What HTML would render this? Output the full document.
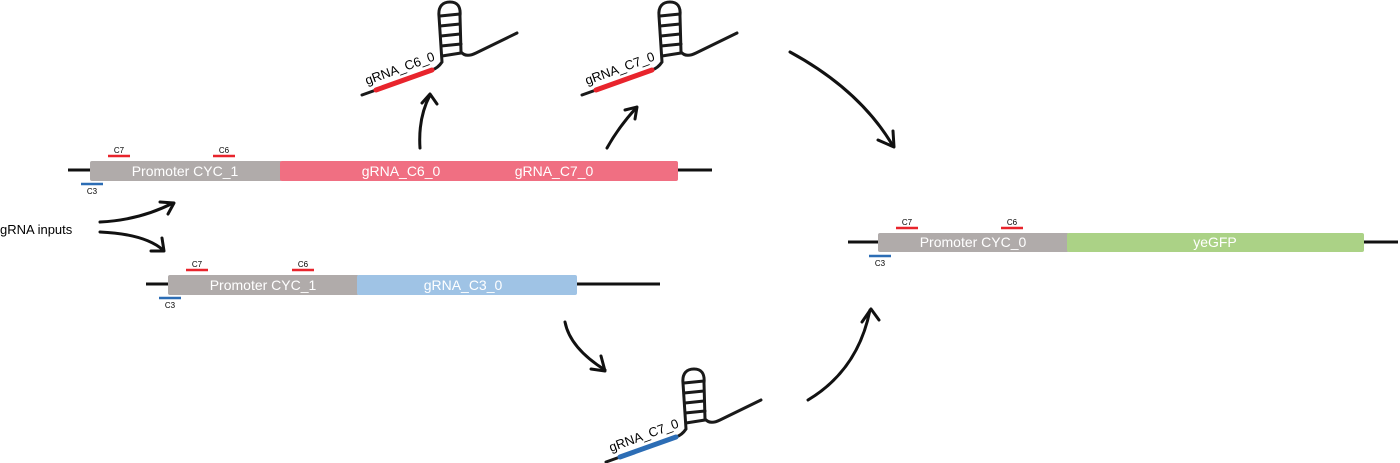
<!DOCTYPE html>
<html><head><meta charset="utf-8"><style>
html,body{margin:0;padding:0;background:#fff;}
svg{display:block;}
text{font-family:"Liberation Sans","DejaVu Sans",sans-serif;}
</style></head><body>
<svg width="1400" height="463" viewBox="0 0 1400 463" xmlns="http://www.w3.org/2000/svg">
<defs>
<g id="hp" fill="none" stroke="#1a1a1a" stroke-width="3" stroke-linecap="round">
  <path d="M362,95 L376,90"/>
  <path d="M432,70 Q438,68 442,62 L439,16 C438,6 443,2 450,2 C457,2 461,6 460,16 L461,52 Q466,58 476,53 L517,33"/>
  <path d="M440,16 L460,14 M440,26 L460,24 M441,36 L460,34 M441,46 L461,44 M442,56 L461,53"/>
</g>
</defs>

<use href="#hp"/>
<path d="M376,90 L432,70" stroke="#e8242c" stroke-width="5" stroke-linecap="round"/>
<text x="0" y="0" font-size="13" transform="translate(367,85) rotate(-20)">gRNA_C6_0</text>

<use href="#hp" transform="translate(220,0)"/>
<path d="M596,90 L652,70" stroke="#e8242c" stroke-width="5" stroke-linecap="round"/>
<text x="0" y="0" font-size="13" transform="translate(587,85) rotate(-20)">gRNA_C7_0</text>

<use href="#hp" transform="translate(244,367)"/>
<path d="M620,457 L676,437" stroke="#2c6db5" stroke-width="5" stroke-linecap="round"/>
<text x="0" y="0" font-size="13" transform="translate(611,452) rotate(-20)">gRNA_C7_0</text>

<g fill="none" stroke="#111" stroke-width="3" stroke-linecap="round" stroke-linejoin="round">
  <path d="M420,148 Q418,118 430,95"/><path d="M422,103 L430,94 L437,104"/>
  <path d="M607,148 Q618,128 636,108"/><path d="M625,110 L637,107 L635,119"/>
  <path d="M790,52 Q860,90 893,146"/><path d="M878,140 L894,147 L893,131"/>
  <path d="M565,322 Q570,348 605,370"/><path d="M591,369 L605,371 L601,356"/>
  <path d="M808,400 Q858,370 870,310"/><path d="M862,322 L871,309 L879,320"/>
  <path d="M100,222 Q140,220 173,203"/><path d="M160,202 L174,203 L168,214"/>
  <path d="M100,232 Q145,234 163,250"/><path d="M151,251 L164,251 L162,238"/>
</g>
<text x="0" y="234" font-size="13">gRNA inputs</text>

<line x1="68" y1="170" x2="92" y2="170" stroke="#111" stroke-width="3"/>
<line x1="676" y1="170" x2="712" y2="170" stroke="#111" stroke-width="3"/>
<rect x="90" y="161" width="192" height="20" rx="2" fill="#b0abaa"/>
<rect x="280" y="161" width="398" height="20" rx="2" fill="#f06f82"/>
<text x="185" y="176" font-size="14" fill="#fff" text-anchor="middle">Promoter CYC_1</text>
<text x="401" y="176" font-size="14" fill="#fff" text-anchor="middle">gRNA_C6_0</text>
<text x="554" y="176" font-size="14" fill="#fff" text-anchor="middle">gRNA_C7_0</text>
<line x1="108" y1="156" x2="130" y2="156" stroke="#e8242c" stroke-width="2.5"/>
<text x="119" y="153" font-size="8" text-anchor="middle">C7</text>
<line x1="213" y1="156" x2="235" y2="156" stroke="#e8242c" stroke-width="2.5"/>
<text x="224" y="153" font-size="8" text-anchor="middle">C6</text>
<line x1="81" y1="184" x2="103" y2="184" stroke="#2c6db5" stroke-width="2.5"/>
<text x="92" y="194" font-size="8" text-anchor="middle">C3</text>

<line x1="146" y1="284" x2="170" y2="284" stroke="#111" stroke-width="3"/>
<line x1="575" y1="284" x2="660" y2="284" stroke="#111" stroke-width="3"/>
<rect x="168" y="275" width="191" height="20" rx="2" fill="#b0abaa"/>
<rect x="357" y="275" width="220" height="20" rx="2" fill="#9fc3e5"/>
<text x="263" y="290" font-size="14" fill="#fff" text-anchor="middle">Promoter CYC_1</text>
<text x="463" y="290" font-size="14" fill="#fff" text-anchor="middle">gRNA_C3_0</text>
<line x1="186" y1="270" x2="208" y2="270" stroke="#e8242c" stroke-width="2.5"/>
<text x="197" y="267" font-size="8" text-anchor="middle">C7</text>
<line x1="292" y1="270" x2="314" y2="270" stroke="#e8242c" stroke-width="2.5"/>
<text x="303" y="267" font-size="8" text-anchor="middle">C6</text>
<line x1="159" y1="298" x2="181" y2="298" stroke="#2c6db5" stroke-width="2.5"/>
<text x="170" y="308" font-size="8" text-anchor="middle">C3</text>

<line x1="848" y1="242" x2="880" y2="242" stroke="#111" stroke-width="3"/>
<line x1="1361" y1="242" x2="1398" y2="242" stroke="#111" stroke-width="3"/>
<rect x="878" y="233" width="191" height="19" rx="2" fill="#b0abaa"/>
<rect x="1067" y="233" width="297" height="19" rx="2" fill="#abd286"/>
<text x="973" y="247" font-size="14" fill="#fff" text-anchor="middle">Promoter CYC_0</text>
<text x="1215" y="247" font-size="14" fill="#fff" text-anchor="middle">yeGFP</text>
<line x1="896" y1="228" x2="918" y2="228" stroke="#e8242c" stroke-width="2.5"/>
<text x="907" y="225" font-size="8" text-anchor="middle">C7</text>
<line x1="1001" y1="228" x2="1023" y2="228" stroke="#e8242c" stroke-width="2.5"/>
<text x="1012" y="225" font-size="8" text-anchor="middle">C6</text>
<line x1="869" y1="256" x2="891" y2="256" stroke="#2c6db5" stroke-width="2.5"/>
<text x="880" y="266" font-size="8" text-anchor="middle">C3</text>
</svg>
</body></html>
